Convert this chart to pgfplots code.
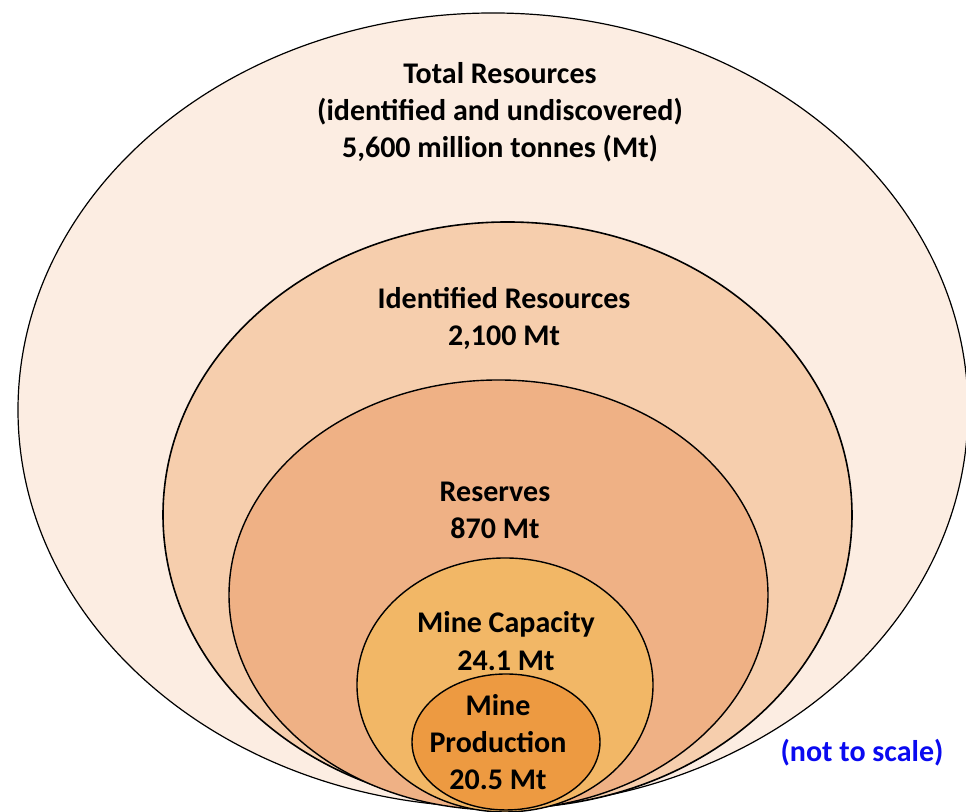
\documentclass[border=0pt]{standalone}
\usepackage{pgfplots}
\pgfplotsset{compat=1.18}
\usepackage{fontspec}
\setmainfont{Carlito}
\definecolor{cTotal}{HTML}{FCEDE2}
\definecolor{cIdent}{HTML}{F6CEAD}
\definecolor{cRes}{HTML}{EFB185}
\definecolor{cCap}{HTML}{F2B766}
\definecolor{cProd}{HTML}{ED9A41}
\definecolor{cBlue}{HTML}{0A0AF0}
\begin{document}
\begin{tikzpicture}
\begin{axis}[
  width=483pt, height=406pt, scale only axis,
  xmin=0, xmax=966, ymin=0, ymax=812,
  hide axis, clip=true,
]
\path (axis cs:0,0) rectangle (axis cs:966,812);
% ellipses: centre x, centre y, x radius, y radius (pixel units, y from bottom)
\draw[fill=cTotal, line width=0.6pt] (axis cs:493,402) ellipse [x radius=475, y radius=397];
\draw[fill=cIdent, line width=0.8pt] (axis cs:507.5,297) ellipse [x radius=344.5, y radius=293];
\draw[fill=cRes, line width=0.7pt] (axis cs:498.5,217) ellipse [x radius=269.5, y radius=215];
\draw[fill=cCap, line width=0.7pt] (axis cs:505,127) ellipse [x radius=148, y radius=127];
\draw[fill=cProd, line width=0.7pt] (axis cs:506,70) ellipse [x radius=94, y radius=68];
\begin{scope}[every node/.style={align=center, font=\fontsize{15}{18.6}\selectfont\bfseries, inner sep=0pt}]
\node at (axis cs:500,699.5) {Total Resources\\(identified and undiscovered)\\5,600 million tonnes (Mt)};
\node at (axis cs:504,493.5) {Identified Resources\\2,100 Mt};
\node at (axis cs:495,301.5) {Reserves\\870 Mt};
\node at (axis cs:506,171) {Mine Capacity\\24.1 Mt};
\node at (axis cs:498,70) {Mine\\Production\\20.5 Mt};
\node[text=cBlue] at (axis cs:862,59) {(not to scale)};
\end{scope}
\end{axis}
\end{tikzpicture}
\end{document}
